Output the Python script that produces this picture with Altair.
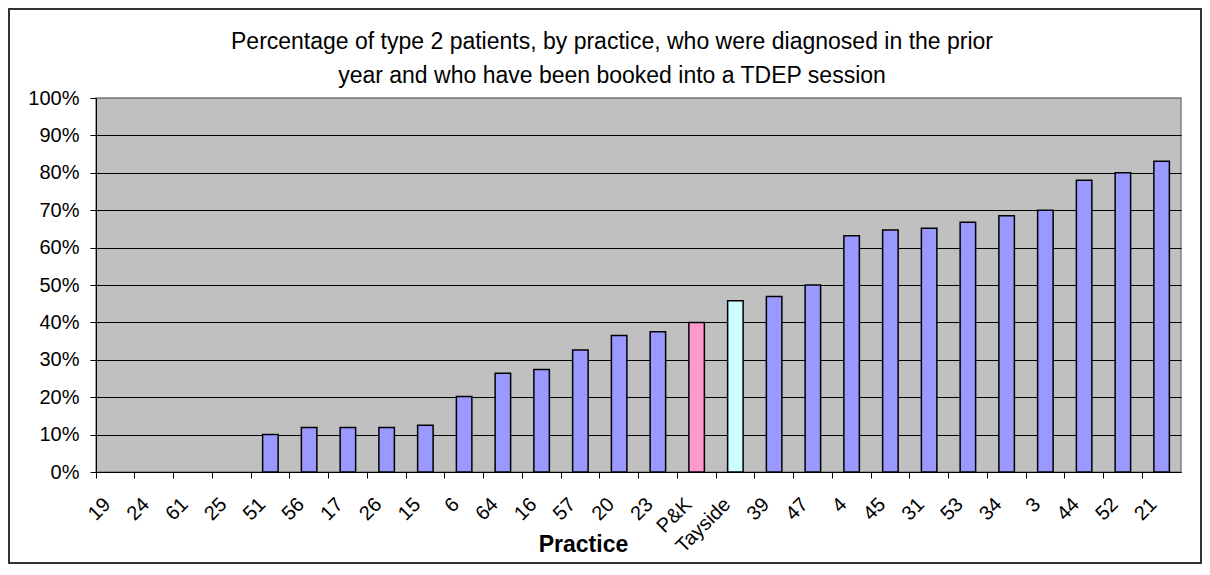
import altair as alt
import pandas as pd

practices = ["19", "24", "61", "25", "51", "56", "17", "26", "15", "6", "64", "16",
             "57", "20", "23", "P&K", "Tayside", "39", "47", "4", "45", "31", "53",
             "34", "3", "44", "52", "21"]
values = [0, 0, 0, 0, 10.0, 11.9, 11.9, 11.9, 12.5, 20.2, 26.4, 27.4,
          32.6, 36.5, 37.5, 40.0, 45.8, 46.9, 50.0, 63.2, 64.7, 65.2, 66.8,
          68.5, 70.0, 78.0, 80.0, 83.1]
groups = ["Practice"] * 15 + ["P&K", "Tayside"] + ["Practice"] * 11

title_lines = ["Percentage of type 2 patients, by practice, who were diagnosed in the prior",
               "year and who have been booked into a TDEP session"]

FONT = "Liberation Sans"
W, H = 1085, 374
PL, PT, PR, PB = 88, 90, 21, 92

df = pd.DataFrame({"practice": practices, "value": [v / 100 for v in values], "group": groups})
bars_df = df[df["value"] > 0]

x_enc = alt.X(
    "practice:N",
    sort=None,
    scale=alt.Scale(domain=practices, paddingInner=0, paddingOuter=0),
    axis=alt.Axis(
        title="Practice",
        titleFont=FONT, titleFontSize=23, titleFontWeight="bold", titleColor="black",
        titleX=487, titleY=72, titleAlign="center", titleBaseline="middle",
        labelFont=FONT, labelFontSize=20, labelColor="black",
        labelAngle=-45, labelAlign="right", labelBaseline="middle",
        bandPosition=0, labelOffset=-8, labelPadding=23,
        tickSize=6, tickColor="black", domainColor="black", grid=False,
    ),
)

bars = alt.Chart(bars_df).mark_bar(
    width=alt.RelativeBandSize(0.4), stroke="black", strokeWidth=1.5
).encode(
    x=x_enc,
    y=alt.Y(
        "value:Q",
        scale=alt.Scale(domain=[0, 1], nice=False),
        axis=alt.Axis(
            title=None, format=".0%", values=[i / 10 for i in range(11)],
            labelFont=FONT, labelFontSize=20, labelColor="black", labelPadding=11,
            tickSize=6, tickColor="black", domainColor="black",
            grid=True,
            gridColor={"condition": {"test": "datum.value >= 1", "value": "#808080"}, "value": "black"},
            gridWidth=1,
        ),
    ),
    color=alt.Color(
        "group:N",
        scale=alt.Scale(domain=["Practice", "P&K", "Tayside"],
                        range=["#9999FF", "#FF99CC", "#CCFFFF"]),
        legend=None,
    ),
)

frame = alt.Chart(pd.DataFrame({"f": [0]})).mark_rect(
    fill=None, stroke="#333333", strokeWidth=2, clip=False
).encode(
    x=alt.value(-PL + 1), x2=alt.value(W + PR - 1),
    y=alt.value(-PT + 1), y2=alt.value(H + PB - 1),
)

title_layers = []
for line, ypos in zip(title_lines, [-49, -15]):
    title_layers.append(
        alt.Chart(pd.DataFrame({"t": [line]})).mark_text(
            font=FONT, fontSize=23, color="black", align="center", baseline="alphabetic", clip=False
        ).encode(x=alt.value(516), y=alt.value(ypos), text="t:N")
    )

chart = alt.layer(bars, frame, *title_layers).properties(
    width=W, height=H,
    padding={"left": PL, "top": PT, "right": PR, "bottom": PB},
    autosize=alt.AutoSizeParams(type="none"),
    background="white",
).configure_view(fill="#C0C0C0", stroke="#808080", strokeWidth=1.5)

chart.save("out.html", embed_options={"renderer": "svg", "actions": False})
